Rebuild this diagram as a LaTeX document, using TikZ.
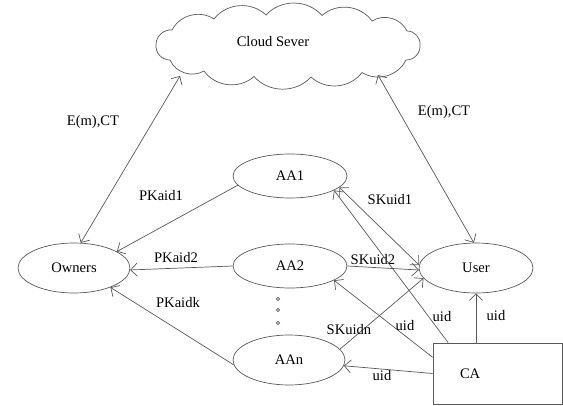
\documentclass[tikz,border=0pt]{standalone}
\usepackage{fontspec}
\setmainfont{Liberation Serif}
\usetikzlibrary{shapes.geometric,arrows.meta}

\begin{document}
\begin{tikzpicture}[x=0.02cm,y=-0.02cm,
  font=\fontsize{8.3}{10}\selectfont,
  ent/.style={ellipse,draw=black!65,inner sep=0pt,minimum width=2.28cm,minimum height=0.88cm},
  arr/.style={draw=black!65,-{Straight Barb[length=1.3mm,width=2.6mm]}},
  darr/.style={draw=black!65,{Straight Barb[length=1.3mm,width=2.6mm]}-{Straight Barb[length=1.3mm,width=2.6mm]}}]
\useasboundingbox (0,0) rectangle (563,405);
% server
\draw[black!65] (156,45)
  \foreach \x/\y in {172/30,214/19,266/15,322/15.5,372/21,407/31,420/45,406/60,362/72.5,311/77,254/76.5,204/71,170/60}
  { to[bend left=48] (\x,\y) } to[bend left=48] cycle;
\node (cloudtxt) at (273,42) {Cloud Sever};
\coordinate (clo) at (180,76);
\coordinate (clu) at (378,75);
% entities
\node[ent,minimum width=2.24cm,minimum height=1cm] (owners) at (74,268) {Owners};
\node[ent] (aa1) at (290,176) {AA1};
\node[ent] (aa2) at (290,266) {AA2};
\node[ent,minimum width=2.24cm,minimum height=1cm] (aan) at (289,360) {AAn};
\node[ent,minimum height=1cm] (user) at (476,268) {User};
\node[rectangle,draw=black!65,minimum width=2.58cm,minimum height=1.22cm,inner xsep=0.54cm,text width=1.5cm,align=left] (ca) at (497.5,373.5) {CA};
% dots
\foreach \y in {299,310,323}
  \draw[black!65] (278,\y) circle (1.6);
% cloud links
\draw[darr] (clo) -- (owners.75);
\draw[darr] (clu) -- (user.95);
\node (lco) at (93,122) {E(m),CT};
\node (lcu) at (444,112) {E(m),CT};
% public keys
\draw[arr] (aa1.190) -- (owners.21);
\draw[arr] (aa2.west) -- (owners.-2);
\draw[arr] (aan.185) -- (owners.-28);
\node (lpk1) at (161,196) {PKaid1};
\node (lpk2) at (176,258) {PKaid2};
\node (lpkk) at (178,303) {PKaidk};
% secret keys
\draw[darr] (aa1.-13) -- (user.177);
\draw[arr] (aa2.east) -- (user.182);
\draw[arr] (aan.12) -- (user.191);
\node (lsk1) at (390,200) {SKuid1};
\node (lsk2) at (373,260) {SKuid2};
\node (lskn) at (349,330) {SKuidn};
% uid from CA
\draw[arr] (ca.148) -- (aa1.-18);
\draw[arr] (ca.166) -- (aa2.-18);
\draw[arr] (ca.west) -- (aan.-6);
\draw[arr] (user.south |- ca.north) -- (user.south);
\node (luid1) at (442,317) {uid};
\node (luid2) at (405,326) {uid};
\node (luidn) at (382,376) {uid};
\node (luidu) at (496,316) {uid};
\end{tikzpicture}
\end{document}
